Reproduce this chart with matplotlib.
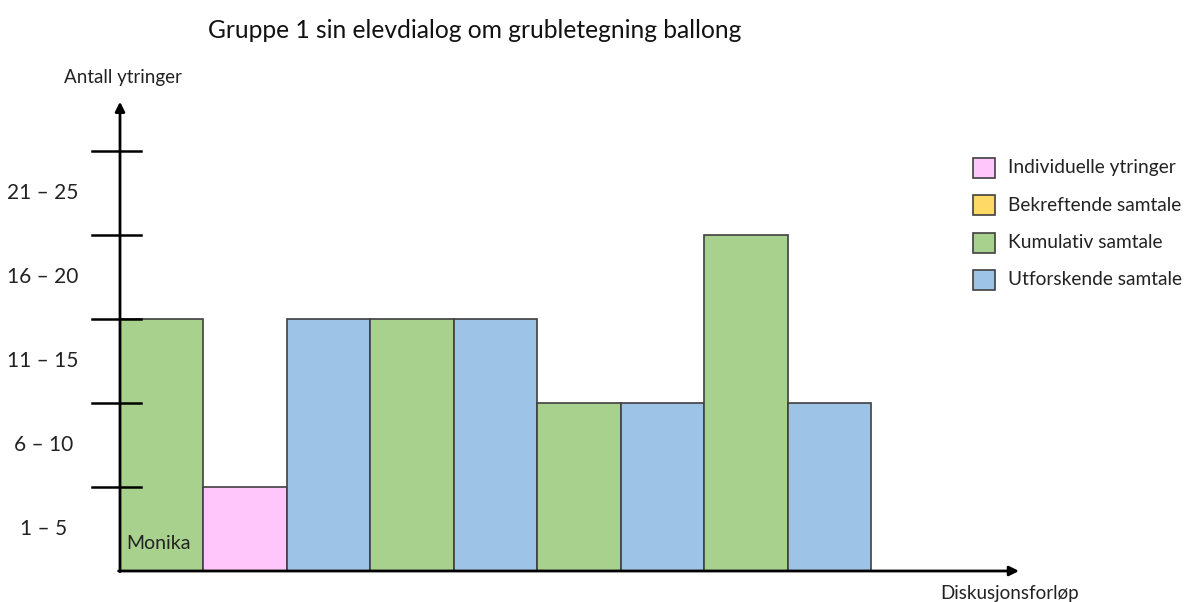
import matplotlib
matplotlib.use("Agg")
import matplotlib.pyplot as plt
from matplotlib.patches import Rectangle

title = "Gruppe 1 sin elevdialog om grubletegning ballong"
y_label = "Antall ytringer"
x_label = "Diskusjonsforløp"
range_labels = ["1 – 5", "6 – 10", "11 – 15", "16 – 20", "21 – 25"]
tick_values = [5, 10, 15, 20, 25]
bar_values = [15, 5, 15, 15, 15, 10, 10, 20, 10]
bar_types = ["Kumulativ", "Individuelle", "Utforskende", "Kumulativ", "Utforskende",
             "Kumulativ", "Utforskende", "Kumulativ", "Utforskende"]
first_bar_name = "Monika"
legend_labels = ["Individuelle ytringer", "Bekreftende samtale", "Kumulativ samtale", "Utforskende samtale"]
legend_keys = ["Individuelle", "Bekreftende", "Kumulativ", "Utforskende"]
colors = {"Individuelle": "#FFC6FB", "Bekreftende": "#FFD966",
          "Kumulativ": "#A9D18E", "Utforskende": "#9DC3E6"}

plt.rcParams['font.family'] = ['Lato', 'DejaVu Sans']

W, H = 1189, 602
fig = plt.figure(figsize=(W / 100, H / 100), dpi=100)
ax = fig.add_axes([0, 0, 1, 1])
ax.axis("off")

px_x = 83.5          # pixels per bar unit
px_y = 84 / 5        # pixels per value unit
x0_px, base_px = 120, 571
ax.set_xlim(-x0_px / px_x, (W - x0_px) / px_x)
ax.set_ylim(-(H - base_px) / px_y, base_px / px_y)

# bars
for i, (v, t) in enumerate(zip(bar_values, bar_types)):
    ax.bar(i, v, width=1, align="edge", color=colors[t], edgecolor="#404040", linewidth=1.2, zorder=2)

ax.text(0.08, 1.65, first_bar_name, fontsize=14, color="#222222", ha="left", va="center", zorder=3)

# axes with arrows
ax.annotate("", xy=(10.8, 0), xytext=(-0.05, 0),
            arrowprops=dict(arrowstyle="-|>", color="black", lw=2, mutation_scale=14), zorder=4)
ax.annotate("", xy=(0, 28.1), xytext=(0, -0.2),
            arrowprops=dict(arrowstyle="-|>", color="black", lw=2, mutation_scale=14), zorder=4)

# tick marks
for tv in tick_values:
    ax.plot([-0.33, 0.25], [tv, tv], color="black", lw=1.8, zorder=4)

# range labels
for k, lab in enumerate(range_labels):
    ax.text(-0.92, k * 5 + 2.5, lab, fontsize=15, ha="center", va="center", color="#222222")

ax.text(0.03, 29.4, y_label, fontsize=13.5, ha="center", va="center", color="#222222")
ax.text(10.65, -1.35, x_label, fontsize=13.5, ha="center", va="center", color="#222222")
fig.text(475 / W, 1 - 30 / H, title, fontsize=17.7, ha="center", va="center", color="#111111")

# legend
for j, (key, lab) in enumerate(zip(legend_keys, legend_labels)):
    yc = 168 + j * 37.3
    ycd = (base_px - yc) / px_y
    ax.add_patch(Rectangle(((973 - x0_px) / px_x, ycd - 10 / px_y), 22 / px_x, 20 / px_y,
                           facecolor=colors[key], edgecolor="#404040", lw=1.2))
    ax.text((1008 - x0_px) / px_x, ycd, lab, fontsize=13.8, ha="left", va="center", color="#222222")

fig.savefig("out.png", dpi=100, facecolor="white")
